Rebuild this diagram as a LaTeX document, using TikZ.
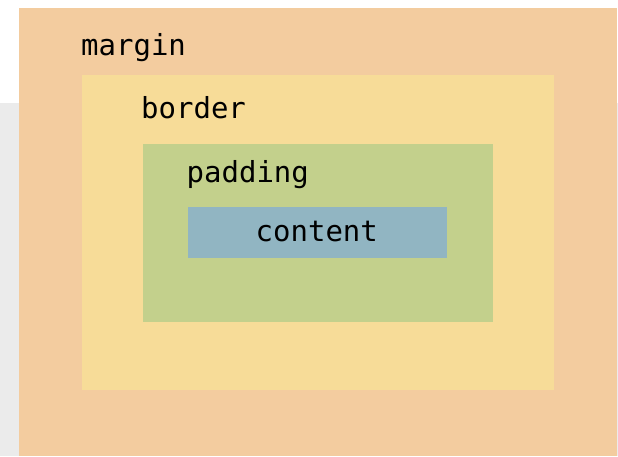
\documentclass[tikz,border=0pt]{standalone}
\usepackage{fontspec}
\setmonofont{DejaVu Sans Mono}
\usepackage{tikz}

\definecolor{backc}{RGB}{235,235,235}
\definecolor{marginc}{RGB}{243,204,159}
\definecolor{borderc}{RGB}{247,220,152}
\definecolor{paddingc}{RGB}{195,208,140}
\definecolor{contentc}{RGB}{145,181,194}

\tikzset{
  boxnode/.style={inner sep=0pt, outer sep=0pt, anchor=north west},
  boxlabel/.style={inner sep=0pt, anchor=base west, font=\ttfamily\fontsize{29}{29}\selectfont}
}

\begin{document}
\begin{tikzpicture}[x=1pt,y=-1pt]
      \useasboundingbox (0,0) rectangle (618,456);
      \fill[backc] (0,103) rectangle (618,456);

       \node(M)[boxnode, fill=marginc, minimum width=598pt, minimum height=448pt] at (19,8) {};
       \node(NM)[boxlabel] at (81,55) {margin};

       \node(B)[boxnode, fill=borderc, minimum width=472pt, minimum height=315pt] at (82,75) {};
       \node(NB)[boxlabel] at (141,118.3) {border};

       \node(P)[boxnode, fill=paddingc, minimum width=350pt, minimum height=178pt] at (143,144) {};
       \node(NP)[boxlabel] at (186.5,182.7) {padding};

       \node(C)[boxnode, fill=contentc, minimum width=259pt, minimum height=51pt] at (188,207) {};
       \node(NC)[boxlabel] at (255.5,241.7) {content};
     \end{tikzpicture}
\end{document}
